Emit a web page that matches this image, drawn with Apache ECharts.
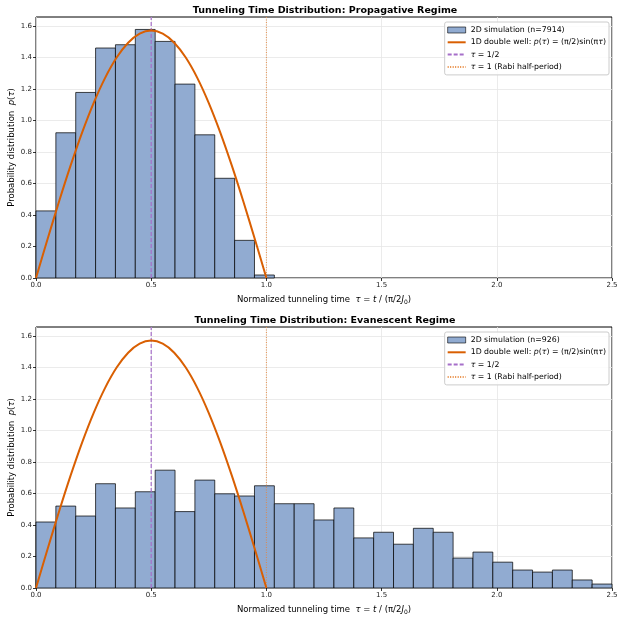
<!DOCTYPE html>
<html><head><meta charset="utf-8">
<script src="https://cdn.jsdelivr.net/npm/echarts@6/dist/echarts.min.js"></script>
<style>html,body{margin:0;padding:0;background:#fff}#c{width:624px;height:618px}</style>
</head><body><div id="c"></div>
<script>
// Histogram bins: 29 equal bins over [0, 2.5]
const binCount = 29;
const binMax = 2.5;
const propagativeDensity = [0.426, 0.922, 1.178, 1.460, 1.481, 1.578, 1.502, 1.231, 0.909, 0.633, 0.239, 0.019];
const evanescentDensity = [0.419, 0.520, 0.457, 0.662, 0.508, 0.611, 0.748, 0.485, 0.685, 0.598, 0.584, 0.649, 0.535, 0.535, 0.432,
  0.508, 0.318, 0.354, 0.278, 0.379, 0.354, 0.190, 0.228, 0.164, 0.114, 0.101, 0.114, 0.051, 0.025];
// 1D double well curve p(tau) sampled
const curveTau = [0, 0.05, 0.1, 0.15, 0.2, 0.25, 0.3, 0.35, 0.4, 0.45, 0.5, 0.55, 0.6, 0.65, 0.7, 0.75, 0.8, 0.85, 0.9, 0.95, 1.0];
const curveP = [0, 0.2457, 0.4854, 0.7131, 0.9233, 1.1107, 1.2708, 1.3996, 1.4939, 1.5515, 1.5708, 1.5515, 1.4939, 1.3996, 1.2708, 1.1107, 0.9233, 0.7131, 0.4854, 0.2457, 0];
const xTicks = [0, 0.5, 1.0, 1.5, 2.0, 2.5];
const yTicks = [0, 0.2, 0.4, 0.6, 0.8, 1.0, 1.2, 1.4, 1.6];
const titles = ['Tunneling Time Distribution: Propagative Regime', 'Tunneling Time Distribution: Evanescent Regime'];
const simNames = ['2D simulation (n=7914)', '2D simulation (n=926)'];
const halfLine = 0.5, rabiLine = 1.0;
const yMax = 1.657;

const binW = binMax / binCount;
function bins(d) { return d.map((v, i) => [i * binW, (i + 1) * binW, v]); }
const datasets = [bins(propagativeDensity), bins(evanescentDensity)];
const curve = curveTau.map((t, i) => [t, curveP[i]]);

const FONT = 'DejaVu Sans';
const barFill = '#91abd1';
const curveColor = '#d95f02';
const purple = '#a66fc9';
const orange = '#e8873a';

const grids = [
  { left: 36, right: 12, top: 17, height: 261, show: true, borderColor: '#000', borderWidth: 1, backgroundColor: 'transparent', outerBoundsMode: 'none', containLabel: false },
  { left: 36, right: 12, top: 327, height: 261, show: true, borderColor: '#000', borderWidth: 1, backgroundColor: 'transparent', outerBoundsMode: 'none', containLabel: false }
];

const xAxes = [0, 1].map(g => ({
  type: 'value', gridIndex: g, min: 0, max: 2.5, interval: 0.5,
  name: '{n|Normalized tunneling time  }{i|τ}{n| = }{i|t}{n| / (π/2}{i|J}{s|0}{n|)}',
  nameLocation: 'middle', nameGap: 17, nameMoveOverlap: false,
  nameTextStyle: { fontFamily: FONT, fontSize: 8.5, color: '#000',
    rich: { n: { fontFamily: FONT, fontSize: 8.5, color: '#000' }, i: { fontFamily: FONT, fontSize: 8.5, fontStyle: 'italic', color: '#000' }, s: { fontFamily: FONT, fontSize: 6, color: '#000', verticalAlign: 'bottom', padding: [4, 0, 0, 0] } } },
  axisLine: { show: false },
  axisTick: { show: true, inside: false, length: 3, lineStyle: { color: '#000', width: 0.8 } },
  axisLabel: { fontFamily: FONT, fontSize: 7, color: '#222', margin: 4, formatter: v => v.toFixed(1) },
  splitLine: { show: true, lineStyle: { color: '#e6e6e6', width: 0.8 } }
}));

const yAxes = [0, 1].map(g => ({
  type: 'value', gridIndex: g, min: 0, max: yMax, interval: 0.2,
  name: '{n|Probability distribution  }{i|p}{n|(}{i|τ}{n|)}',
  nameLocation: 'middle', nameGap: 20, nameRotate: 90, nameMoveOverlap: false,
  nameTextStyle: { fontFamily: FONT, fontSize: 8.5, color: '#000',
    rich: { n: { fontFamily: FONT, fontSize: 8.5, color: '#000' }, i: { fontFamily: FONT, fontSize: 8.5, fontStyle: 'italic', color: '#000' } } },
  axisLine: { show: false },
  axisTick: { show: true, inside: false, length: 3, lineStyle: { color: '#000', width: 0.8 } },
  axisLabel: { fontFamily: FONT, fontSize: 7, color: '#222', margin: 4, showMaxLabel: false, formatter: v => v.toFixed(1) },
  splitLine: { show: true, showMaxLine: false, lineStyle: { color: '#e6e6e6', width: 0.8 } }
}));

const series = [];
const legends = [];
[0, 1].forEach(g => {
  series.push({
    name: simNames[g], type: 'custom', xAxisIndex: g, yAxisIndex: g,
    data: datasets[g], encode: { x: [0, 1], y: 2 },
    itemStyle: { color: barFill, borderColor: 'rgba(0,0,0,0.7)', borderWidth: 1 },
    renderItem: function (params, api) {
      const p0 = api.coord([api.value(0), 0]);
      const p1 = api.coord([api.value(1), api.value(2)]);
      return { type: 'rect', shape: { x: p0[0], y: p1[1], width: p1[0] - p0[0], height: p0[1] - p1[1] },
        style: { fill: barFill, stroke: 'rgba(0,0,0,0.72)', lineWidth: 1 } };
    },
    z: 2
  });
  series.push({
    name: '1D double well', type: 'line', xAxisIndex: g, yAxisIndex: g, data: curve,
    smooth: 0.3, showSymbol: false, symbol: 'none', lineStyle: { color: curveColor, width: 2 }, itemStyle: { color: curveColor }, z: 5
  });
  series.push({
    name: 'τ = 1/2', type: 'line', xAxisIndex: g, yAxisIndex: g, data: [[halfLine, 0], [halfLine, yMax]],
    showSymbol: false, symbol: 'none', lineStyle: { color: purple, width: 1.2, type: [4, 2] }, itemStyle: { color: purple }, z: 4
  });
  series.push({
    name: 'τ = 1 (Rabi half-period)', type: 'line', xAxisIndex: g, yAxisIndex: g, data: [[rabiLine, 0], [rabiLine, yMax]],
    showSymbol: false, symbol: 'none', lineStyle: { color: orange, width: 0.9, type: [1, 1.5] }, itemStyle: { color: orange }, z: 4
  });
  legends.push({
    orient: 'vertical', right: 15, top: grids[g].top + 5,
    backgroundColor: 'rgba(255,255,255,0.85)', borderColor: '#ccc', borderWidth: 1, borderRadius: 2,
    padding: [4, 3, 4, 2], itemGap: 4.3, itemWidth: 18, itemHeight: 6,
    textStyle: { fontFamily: FONT, fontSize: 7.8, color: '#000',
      rich: { n: { fontFamily: FONT, fontSize: 7.8, color: '#000' }, i: { fontFamily: FONT, fontSize: 7.8, fontStyle: 'italic', color: '#000' } } },
    formatter: function (name) {
      if (name === '1D double well') return '{n|1D double well: }{i|p}{n|(}{i|τ}{n|) = (π/2)sin(π}{i|τ}{n|)}';
      if (name === 'τ = 1/2') return '{i|τ}{n| = 1/2}';
      if (name === 'τ = 1 (Rabi half-period)') return '{i|τ}{n| = 1 (Rabi half-period)}';
      return '{n|' + name + '}';
    },
    data: [
      { name: simNames[g], icon: 'rect', itemStyle: { color: barFill, borderColor: 'rgba(0,0,0,0.6)', borderWidth: 1 } },
      { name: '1D double well', itemStyle: { opacity: 0 } },
      { name: 'τ = 1/2', itemStyle: { opacity: 0 } },
      { name: 'τ = 1 (Rabi half-period)', itemStyle: { opacity: 0 } }
    ]
  });
});

const chart = echarts.init(document.getElementById('c'), null, { renderer: 'canvas' });
chart.setOption({
  animation: false,
  backgroundColor: '#fff',
  title: titles.map((t, g) => ({
    text: t, left: 320, textAlign: 'center', top: g === 0 ? 1 : 311,
    textStyle: { fontFamily: FONT, fontSize: 9.5, fontWeight: 'bold', color: '#000' }
  })),
  grid: grids,
  xAxis: xAxes,
  yAxis: yAxes,
  legend: legends,
  series: series
});
</script></body></html>
